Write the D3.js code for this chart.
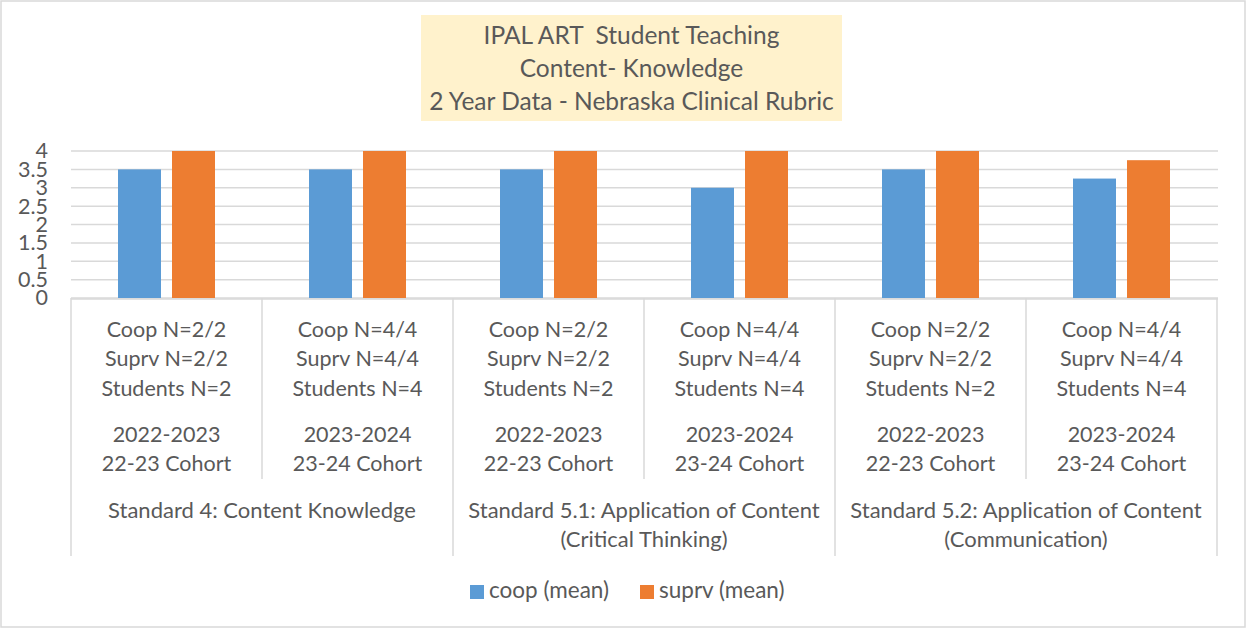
<!DOCTYPE html>
<html>
<head>
<meta charset="utf-8">
<script src="https://cdn.jsdelivr.net/npm/d3@7"></script>
<style>
  body { margin: 0; background: #fff; }
  text { font-family: Lato, "Open Sans", sans-serif; fill: #595959; white-space: pre; }
</style>
</head>
<body>
<div id="chart"></div>
<script>
// Data
const categoryLines = [
  ["Coop N=2/2", "Suprv N=2/2", "Students N=2", "2022-2023", "22-23 Cohort"],
  ["Coop N=4/4", "Suprv N=4/4", "Students N=4", "2023-2024", "23-24 Cohort"],
  ["Coop N=2/2", "Suprv N=2/2", "Students N=2", "2022-2023", "22-23 Cohort"],
  ["Coop N=4/4", "Suprv N=4/4", "Students N=4", "2023-2024", "23-24 Cohort"],
  ["Coop N=2/2", "Suprv N=2/2", "Students N=2", "2022-2023", "22-23 Cohort"],
  ["Coop N=4/4", "Suprv N=4/4", "Students N=4", "2023-2024", "23-24 Cohort"]
];
const groupLines = [
  ["Standard 4: Content Knowledge"],
  ["Standard 5.1: Application of Content", "(Critical Thinking)"],
  ["Standard 5.2: Application of Content", "(Communication)"]
];
const seriesNames = ["coop (mean)", "suprv (mean)"];
const coopMean = [3.5, 3.5, 3.5, 3.0, 3.5, 3.25];
const suprvMean = [4, 4, 4, 4, 4, 3.75];
const yTicks = [0, 0.5, 1, 1.5, 2, 2.5, 3, 3.5, 4];
const titleLines = ["IPAL ART  Student Teaching", "Content- Knowledge", "2 Year Data - Nebraska Clinical Rubric"];

const colors = ["#5B9BD5", "#ED7D31"];
const W = 1247, H = 629;
const plotLeft = 71, plotRight = 1217, plotTop = 151, plotBottom = 298;

const svg = d3.select("#chart").append("svg")
  .attr("width", W).attr("height", H);

// chart border
svg.append("rect")
  .attr("x", 1).attr("y", 1).attr("width", W - 3).attr("height", H - 3)
  .attr("fill", "#fff").attr("stroke", "#D9D9D9").attr("stroke-width", 1.5);

// title box
const tb = svg.append("g");
tb.append("rect")
  .attr("x", 421).attr("y", 15).attr("width", 421).attr("height", 106)
  .attr("fill", "#FFF2CC");
tb.selectAll("text").data(titleLines).enter().append("text")
  .attr("x", 631.5).attr("y", (d, i) => 44 + i * 33)
  .attr("text-anchor", "middle").style("font-size", "24.5px")
  .text(d => d);

// scales
const idx = categoryLines.map((d, i) => i);
const x0 = d3.scaleBand().domain(idx).range([plotLeft, plotRight]).padding(0);
const x1 = d3.scaleBand().domain([0, 1])
  .range([x0.bandwidth() / 2 - 48.5, x0.bandwidth() / 2 + 48.5])
  .paddingInner(0.204).paddingOuter(0);
const y = d3.scaleLinear().domain([0, 4]).range([plotBottom, plotTop]);

// gridlines
svg.append("g").selectAll("line").data(yTicks).enter().append("line")
  .attr("x1", plotLeft).attr("x2", plotRight + 1)
  .attr("y1", d => y(d)).attr("y2", d => y(d))
  .attr("stroke", "#D9D9D9").attr("stroke-width", 1.5);

// y axis labels (they overlap in the original too)
const yAxis = svg.append("g")
  .attr("transform", `translate(48,0)`)
  .call(d3.axisLeft(y).tickValues(yTicks).tickSize(0).tickPadding(0).tickFormat(d3.format("")));
yAxis.select(".domain").remove();
yAxis.selectAll("text").style("font-size", "21.5px").attr("fill", "#595959")
  .style("font-family", "Lato, 'Open Sans', sans-serif");

// bars
const series = [coopMean, suprvMean];
series.forEach((vals, s) => {
  svg.append("g").selectAll("rect").data(vals).enter().append("rect")
    .attr("x", (d, i) => x0(i) + x1(s))
    .attr("y", d => y(d))
    .attr("width", x1.bandwidth())
    .attr("height", d => plotBottom - y(d))
    .attr("fill", colors[s]);
});

// category axis (multi-level)
const axisColor = "#D9D9D9";
svg.append("line")
  .attr("x1", plotLeft).attr("x2", plotRight + 1).attr("y1", plotBottom + 1).attr("y2", plotBottom + 1)
  .attr("stroke", axisColor).attr("stroke-width", 1.5);
// inner dividers
svg.append("g").selectAll("line").data(idx.filter(i => i % 2 === 1)).enter().append("line")
  .attr("x1", i => x0(i)).attr("x2", i => x0(i))
  .attr("y1", plotBottom).attr("y2", 479)
  .attr("stroke", axisColor).attr("stroke-width", 1.5);
// group dividers
svg.append("g").selectAll("line").data([0, 2, 4, 6]).enter().append("line")
  .attr("x1", i => i < 6 ? x0(i) : plotRight).attr("x2", i => i < 6 ? x0(i) : plotRight)
  .attr("y1", plotBottom).attr("y2", 556)
  .attr("stroke", axisColor).attr("stroke-width", 1.5);

// inner labels
const lineY = [39, 68, 98, 144, 173];
const cat = svg.append("g").selectAll("g").data(categoryLines).enter().append("g")
  .attr("transform", (d, i) => `translate(${x0(i) + x0.bandwidth() / 2},${plotBottom})`);
cat.selectAll("text").data(d => d).enter().append("text")
  .attr("y", (d, j) => lineY[j])
  .attr("text-anchor", "middle").style("font-size", "21.5px")
  .text(d => d);

// outer labels
const grp = svg.append("g").selectAll("g").data(groupLines).enter().append("g")
  .attr("transform", (d, g) => `translate(${x0(g * 2 + 1)},${plotBottom})`);
grp.selectAll("text").data(d => d).enter().append("text")
  .attr("y", (d, j) => 220 + j * 29)
  .attr("text-anchor", "middle").style("font-size", "22px")
  .text(d => d);

// legend
const legX = [470, 640];
const leg = svg.append("g").selectAll("g").data(seriesNames).enter().append("g")
  .attr("transform", (d, i) => `translate(${legX[i]},585)`);
leg.append("rect").attr("width", 14).attr("height", 14).attr("fill", (d, i) => colors[i]);
leg.append("text").attr("x", 19).attr("y", 13).style("font-size", "22.5px").text(d => d);
</script>
</body>
</html>
